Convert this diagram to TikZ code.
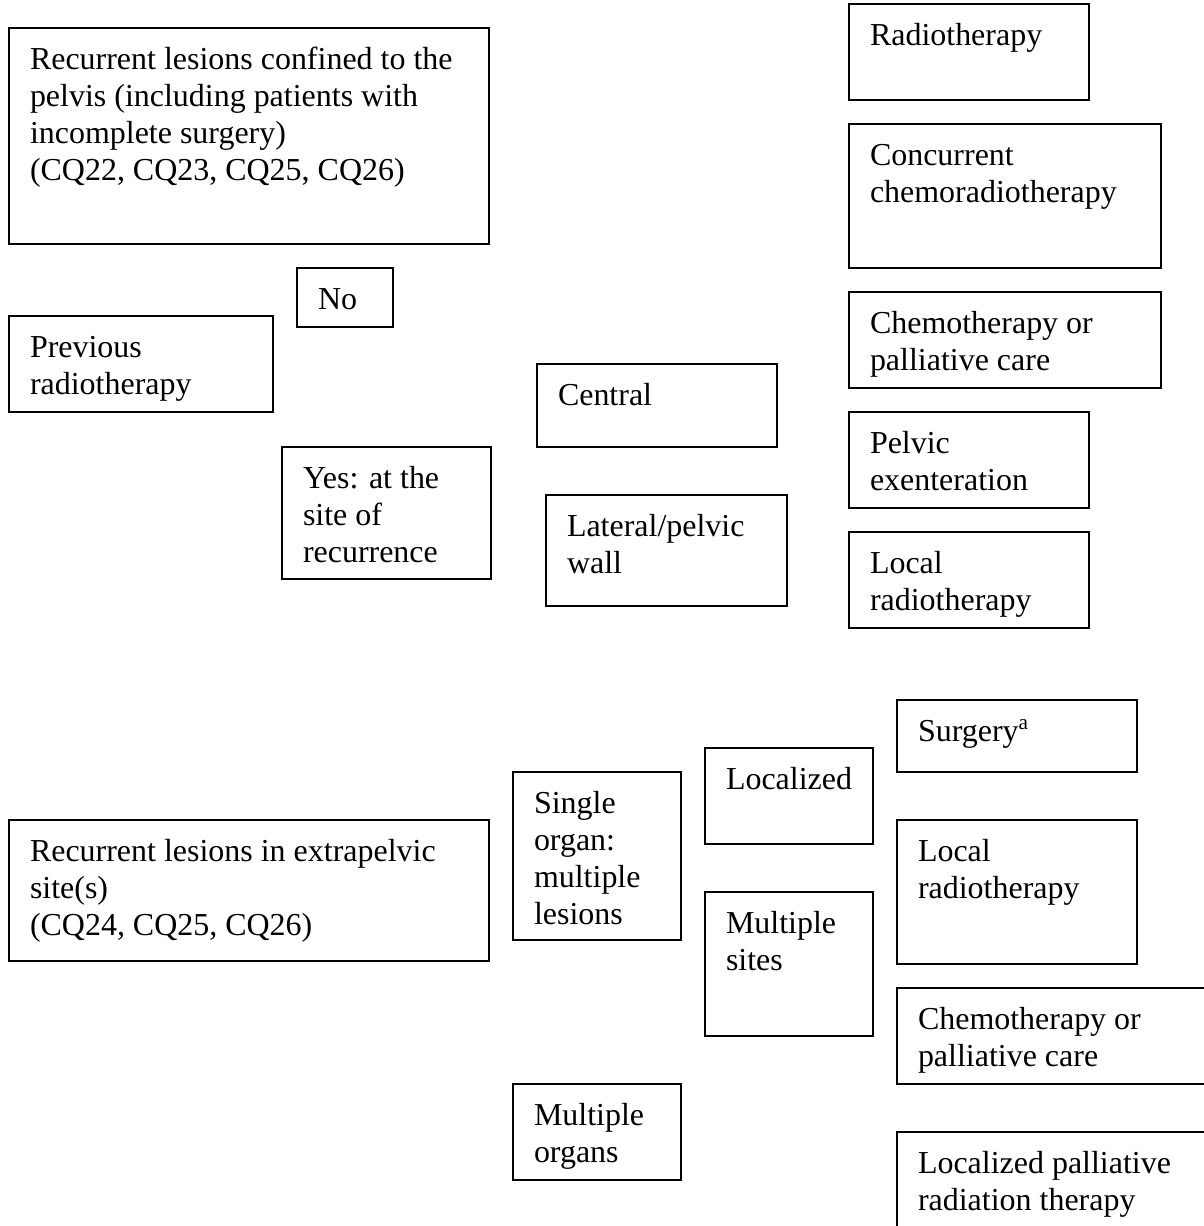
\documentclass[tikz,border=0pt]{standalone}
\usepackage{fontspec}
\setmainfont{Liberation Serif}
\tikzset{
  boxst/.style={draw, line width=0.75pt, inner sep=0pt, outer sep=0pt, anchor=north west},
  txtst/.style={anchor=base west, inner sep=0pt, outer sep=0pt, font=\fontsize{12}{14}\selectfont}
}
\newcommand\bx[6]{%
  \node[boxst, minimum width={(#4-#2)*0.3754pt}, minimum height={(#5-#3)*0.3754pt}] (#1) at (#2,#3) {};
  \node[txtst] (#1-t) at ([xshift={21*0.3754pt}, yshift={-41*0.3754pt}]#1.north west)
    {\begin{tabular}[t]{@{}l@{}}#6\end{tabular}};%
}
\begin{document}
\begin{tikzpicture}[x=0.3754pt, y=-0.3754pt]
\useasboundingbox (0,0) rectangle (1204,1226);
\clip (0,0) rectangle (1204,1226);
\bx{b1}{9}{28}{489}{244}{Recurrent lesions confined to the\\pelvis (including patients with\\incomplete surgery)\\(CQ22, CQ23, CQ25, CQ26)}
\bx{no}{297}{268}{393}{327}{No}
\bx{prev}{9}{316}{273}{412}{Previous\\radiotherapy}
\bx{yes}{282}{447}{491}{579}{Yes: at the\\site of\\recurrence}
\bx{central}{537}{364}{777}{447}{Central}
\bx{lateral}{546}{495}{787}{606}{Lateral/pelvic\\wall}
\bx{rt}{849}{4}{1089}{100}{Radiotherapy}
\bx{ccrt}{849}{124}{1161}{268}{Concurrent\\chemoradiotherapy}
\bx{chemoA}{849}{292}{1161}{388}{Chemotherapy or\\palliative care}
\bx{pe}{849}{412}{1089}{508}{Pelvic\\exenteration}
\bx{lrtA}{849}{532}{1089}{628}{Local\\radiotherapy}
\bx{surg}{897}{700}{1137}{772}{Surgery\textsuperscript{a}}
\bx{loc}{705}{748}{873}{844}{Localized}
\bx{single}{513}{772}{681}{940}{Single\\organ:\\multiple\\lesions}
\bx{extra}{9}{820}{489}{961}{Recurrent lesions in extrapelvic\\site(s)\\(CQ24, CQ25, CQ26)}
\bx{lrtB}{897}{820}{1137}{964}{Local\\radiotherapy}
\bx{multi}{705}{892}{873}{1036}{Multiple\\sites}
\bx{chemoB}{897}{988}{1230}{1084}{Chemotherapy or\\palliative care}
\bx{morg}{513}{1084}{681}{1180}{Multiple\\organs}
\bx{lpr}{897}{1132}{1230}{1260}{Localized palliative\\radiation therapy}
\end{tikzpicture}
\end{document}
